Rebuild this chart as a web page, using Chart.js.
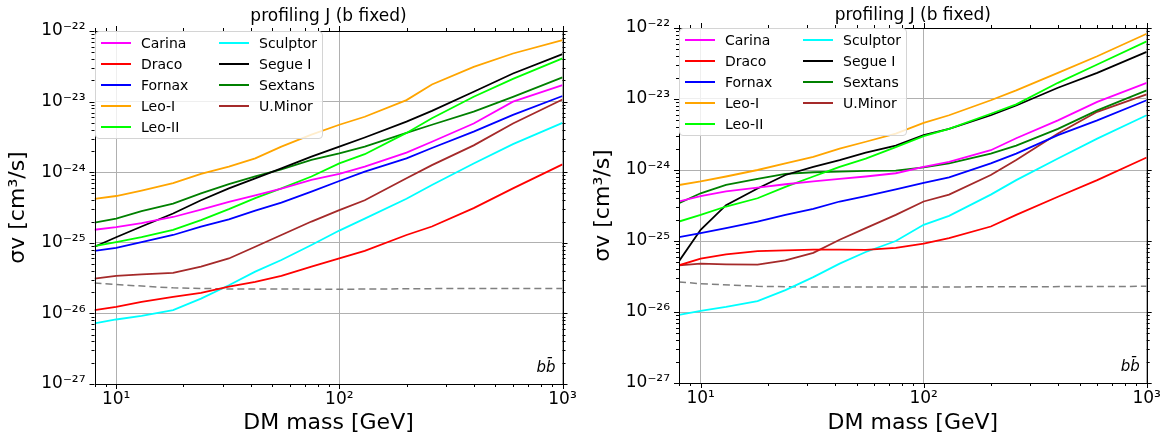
<!DOCTYPE html>
<html>
<head>
<meta charset="utf-8">
<script src="https://cdn.jsdelivr.net/npm/chart.js@4.4.1/dist/chart.umd.min.js"></script>
<style>
  html, body { margin: 0; padding: 0; background: #fff; }
  body { width: 1171px; height: 437px; position: relative; overflow: hidden; font-family: 'DejaVu Sans', sans-serif; }
  .panel { position: absolute; top: 0; height: 437px; }
  .panel canvas { position: absolute; left: 0; top: 0; }
  .legend { position: absolute; box-sizing: border-box; background: rgba(255,255,255,0.8); border: 1px solid #d4d4d4; border-radius: 4px; }
  .legend .item { position: absolute; height: 20px; display: flex; align-items: center; font-size: 14px; color: #000; white-space: nowrap; }
  .legend .swatch { display: inline-block; width: 30px; height: 2px; margin-right: 10.5px; }
</style>
</head>
<body>
<div class="panel" id="leftPanel" style="left:0;width:585px"><canvas id="leftChart" width="585" height="437"></canvas></div>
<div class="panel" id="rightPanel" style="left:585px;width:586px"><canvas id="rightChart" width="586" height="437"></canvas></div>
<script>
Chart.defaults.font.family = "'DejaVu Sans', sans-serif";
Chart.defaults.color = '#000';

// DM masses [GeV] at which the limits are read
const MASS = [8, 10, 13, 18, 24, 32, 42, 55, 75, 100, 130, 200, 260, 400, 600, 1000];
const DASH_MASS = [8, 10, 18, 32, 100, 300, 1000];

const DWARFS = ['Carina', 'Draco', 'Fornax', 'Leo-I', 'Leo-II', 'Sculptor', 'Segue I', 'Sextans', 'U.Minor'];
const COLORS = ['#ff00ff', '#ff0000', '#0000ff', '#ffa500', '#00ff00', '#00ffff', '#000000', '#008000', '#a52a2a'];

// axis ticks
const X_DECADES = [1, 2, 3];
const Y_DECADES = [-27, -26, -25, -24, -23, -22];

// left panel, sigma v [cm^3/s]
const leftCarina   = [1.53e-25, 1.67e-25, 1.9e-25, 2.32e-25, 2.94e-25, 3.79e-25, 4.7e-25, 5.85e-25, 7.8e-25, 9.5e-25, 1.2e-24, 1.89e-24, 2.7e-24, 4.9e-24, 1.0e-23, 1.71e-23];
const leftDraco    = [1.11e-26, 1.24e-26, 1.46e-26, 1.72e-26, 1.95e-26, 2.4e-26, 2.8e-26, 3.4e-26, 4.6e-26, 6.0e-26, 7.7e-26, 1.29e-25, 1.7e-25, 3.1e-25, 5.9e-25, 1.29e-24];
const leftFornax   = [7.7e-26, 8.5e-26, 1.02e-25, 1.29e-25, 1.7e-25, 2.15e-25, 2.86e-25, 3.7e-25, 5.3e-25, 7.5e-25, 1.02e-24, 1.57e-24, 2.2e-24, 3.75e-24, 6.5e-24, 1.2e-23];
const leftLeoI     = [4.2e-25, 4.6e-25, 5.5e-25, 7.0e-25, 9.5e-25, 1.2e-24, 1.57e-24, 2.3e-24, 3.4e-24, 4.7e-24, 6.1e-24, 1.05e-23, 1.75e-23, 3.1e-23, 4.8e-23, 7.4e-23];
const leftLeoII    = [9.0e-26, 1.02e-25, 1.2e-25, 1.52e-25, 2.1e-25, 3.0e-25, 4.3e-25, 5.9e-25, 8.7e-25, 1.33e-24, 1.8e-24, 3.6e-24, 5.8e-24, 1.17e-23, 2.1e-23, 4.1e-23];
const leftSculptor = [7.2e-27, 8.2e-27, 9.2e-27, 1.11e-26, 1.62e-26, 2.5e-26, 3.9e-26, 5.7e-26, 9.3e-26, 1.49e-25, 2.2e-25, 4.2e-25, 6.6e-25, 1.33e-24, 2.5e-24, 5.0e-24];
const leftSegue    = [8.8e-26, 1.2e-25, 1.7e-25, 2.6e-25, 4.0e-25, 5.9e-25, 8.2e-25, 1.13e-24, 1.66e-24, 2.3e-24, 3.1e-24, 5.2e-24, 7.4e-24, 1.38e-23, 2.5e-23, 4.7e-23];
const leftSextans  = [1.93e-25, 2.2e-25, 2.8e-25, 3.6e-25, 5.0e-25, 6.8e-25, 8.7e-25, 1.1e-24, 1.49e-24, 1.85e-24, 2.3e-24, 3.6e-24, 4.7e-24, 7.2e-24, 1.17e-23, 2.2e-23];
const leftUMinor   = [3.1e-26, 3.4e-26, 3.56e-26, 3.75e-26, 4.6e-26, 6.0e-26, 8.8e-26, 1.29e-25, 2.0e-25, 2.9e-25, 4.0e-25, 8.2e-25, 1.26e-24, 2.4e-24, 4.9e-24, 1.07e-23];
const leftDashed   = [2.7e-26, 2.56e-26, 2.3e-26, 2.22e-26, 2.2e-26, 2.25e-26, 2.25e-26];

// right panel
const rightCarina   = [3.6e-25, 4.3e-25, 5.0e-25, 5.65e-25, 6.3e-25, 6.9e-25, 7.5e-25, 8.1e-25, 9.0e-25, 1.11e-24, 1.3e-24, 1.9e-24, 2.8e-24, 5.0e-24, 9.1e-24, 1.69e-23];
const rightDraco    = [4.55e-26, 5.65e-26, 6.5e-26, 7.2e-26, 7.4e-26, 7.55e-26, 7.55e-26, 7.5e-26, 8.0e-26, 9.2e-26, 1.1e-25, 1.6e-25, 2.33e-25, 4.2e-25, 7.2e-25, 1.5e-24];
const rightFornax   = [1.13e-25, 1.29e-25, 1.52e-25, 1.88e-25, 2.33e-25, 2.83e-25, 3.6e-25, 4.3e-25, 5.35e-25, 6.6e-25, 7.9e-25, 1.24e-24, 1.7e-24, 3.1e-24, 5.0e-24, 9.6e-24];
const rightLeoI     = [6.15e-25, 6.9e-25, 8.1e-25, 1.0e-24, 1.24e-24, 1.53e-24, 2.0e-24, 2.5e-24, 3.26e-24, 4.6e-24, 5.9e-24, 9.6e-24, 1.32e-23, 2.33e-23, 4.0e-23, 8.3e-23];
const rightLeoII    = [1.88e-25, 2.33e-25, 3.06e-25, 4.0e-25, 5.8e-25, 8.1e-25, 1.11e-24, 1.45e-24, 2.1e-24, 3.0e-24, 3.8e-24, 6.2e-24, 8.4e-24, 1.69e-23, 3.06e-23, 6.5e-23];
const rightSculptor = [9.1e-27, 1.04e-26, 1.18e-26, 1.42e-26, 2.03e-26, 3.1e-26, 4.8e-26, 7.0e-26, 1.0e-25, 1.69e-25, 2.26e-25, 4.5e-25, 7.2e-25, 1.45e-24, 2.77e-24, 5.9e-24];
const rightSegue    = [5.2e-26, 1.44e-25, 3.2e-25, 5.5e-25, 8.5e-25, 1.11e-24, 1.38e-24, 1.75e-24, 2.2e-24, 3.1e-24, 3.8e-24, 5.9e-24, 8.1e-24, 1.44e-23, 2.33e-23, 4.6e-23];
const rightSextans  = [3.4e-25, 4.7e-25, 6.15e-25, 7.5e-25, 8.8e-25, 9.3e-25, 9.5e-25, 9.7e-25, 9.8e-25, 1.09e-24, 1.24e-24, 1.7e-24, 2.2e-24, 3.8e-24, 6.9e-24, 1.32e-23];
const rightUMinor   = [4.55e-26, 4.8e-26, 4.7e-26, 4.65e-26, 5.35e-26, 6.8e-26, 1.04e-25, 1.52e-25, 2.33e-25, 3.6e-25, 4.5e-25, 8.5e-25, 1.38e-24, 3.26e-24, 6.6e-24, 1.16e-23];
const rightDashed   = [2.65e-26, 2.5e-26, 2.3e-26, 2.25e-26, 2.25e-26, 2.27e-26, 2.3e-26];

const leftSeries = [leftCarina, leftDraco, leftFornax, leftLeoI, leftLeoII, leftSculptor, leftSegue, leftSextans, leftUMinor];
const rightSeries = [rightCarina, rightDraco, rightFornax, rightLeoI, rightLeoII, rightSculptor, rightSegue, rightSextans, rightUMinor];

const SUP = { '-': '\u207b', '0': '\u2070', '1': '\u00b9', '2': '\u00b2', '3': '\u00b3', '4': '\u2074', '5': '\u2075', '6': '\u2076', '7': '\u2077', '8': '\u2078', '9': '\u2079' };
const sup = n => String(n).split('').map(c => SUP[c]).join('');

// decade ticks plus 2..9 minor ticks inside [lo, hi]
function logTicks(decades, lo, hi) {
  const out = [];
  for (let e = decades[0] - 1; e <= decades[decades.length - 1]; e++) {
    for (let m = 1; m < 10; m++) {
      const v = m * Math.pow(10, e);
      if (v >= lo * (1 - 1e-9) && v <= hi * (1 + 1e-9)) out.push({ value: v, major: m === 1 });
    }
  }
  return out;
}

const tickLabel = (v, i, ticks) => ticks[i].major ? '10' + sup(Math.round(Math.log10(v))) : '';
const gridColor = c => (c.tick && c.tick.major) ? '#b0b0b0' : 'rgba(0,0,0,0)';

const framePlugin = {
  id: 'frame',
  afterDraw(chart) {
    const { ctx, chartArea: a, scales: { x, y } } = chart;
    ctx.save();
    ctx.strokeStyle = '#000';
    ctx.lineWidth = 1;
    ctx.beginPath();
    x.ticks.forEach(t => {
      const px = Math.round(x.getPixelForValue(t.value)) + 0.5;
      const len = t.major ? 5 : 3;
      ctx.moveTo(px, a.bottom); ctx.lineTo(px, a.bottom + len);
      ctx.moveTo(px, a.top); ctx.lineTo(px, a.top - len);
    });
    y.ticks.forEach(t => {
      const py = Math.round(y.getPixelForValue(t.value)) + 0.5;
      const len = t.major ? 5 : 3;
      ctx.moveTo(a.left, py); ctx.lineTo(a.left - len, py);
      ctx.moveTo(a.right, py); ctx.lineTo(a.right + len, py);
    });
    ctx.stroke();
    ctx.strokeRect(Math.round(a.left) + 0.5, Math.round(a.top) + 0.5, Math.round(a.right) - Math.round(a.left), Math.round(a.bottom) - Math.round(a.top));
    ctx.fillStyle = '#000';
    ctx.font = "italic 15px 'DejaVu Sans', sans-serif";
    ctx.textAlign = 'right';
    ctx.textBaseline = 'alphabetic';
    ctx.fillText('bb\u0304', a.right - 7, a.bottom - 12);
    ctx.restore();
  }
};

function buildLegend(chart, holder) {
  const a = chart.chartArea;
  const box = document.createElement('div');
  box.className = 'legend';
  box.style.left = Math.round(a.left) + 'px';
  box.style.top = Math.round(a.top) + 'px';
  box.style.width = '228px';
  box.style.height = '108px';
  chart.data.datasets.forEach((ds, i) => {
    if (!ds.label) return;
    const col = Math.floor(i / 5), row = i % 5;
    const item = document.createElement('div');
    item.className = 'item';
    item.style.left = (4.5 + col * 118) + 'px';
    item.style.top = (1.3 + row * 20.8) + 'px';
    item.innerHTML = `<span class="swatch" style="background:${ds.borderColor}"></span>${ds.label}`;
    box.appendChild(item);
  });
  holder.appendChild(box);
}

function makePanel(canvasId, series, dashed, geo) {
  const datasets = series.map((vals, i) => ({
    label: DWARFS[i],
    data: MASS.map((m, j) => ({ x: m, y: vals[j] })),
    borderColor: COLORS[i],
    borderWidth: 1.8,
    pointRadius: 0,
    fill: false,
    tension: 0
  }));
  datasets.push({
    label: '',
    data: DASH_MASS.map((m, j) => ({ x: m, y: dashed[j] })),
    borderColor: '#808080',
    borderWidth: 1.5,
    borderDash: [7, 4],
    pointRadius: 0,
    fill: false
  });
  const chart = new Chart(document.getElementById(canvasId), {
    type: 'line',
    data: { datasets },
    plugins: [framePlugin],
    options: {
      responsive: false,
      animation: false,
      events: [],
      layout: { padding: { left: 0, right: geo.padRight, top: 0, bottom: 0 } },
      plugins: {
        legend: { display: false },
        tooltip: { enabled: false },
        title: {
          display: true,
          fullSize: false,
          text: 'profiling J (b fixed)',
          font: { size: 17, weight: 'normal' },
          color: '#000',
          padding: { top: geo.titleTop, bottom: geo.titleBottom }
        }
      },
      scales: {
        x: {
          type: 'logarithmic',
          min: 8, max: 1000,
          afterBuildTicks: s => { s.ticks = logTicks(X_DECADES, 8, 1000); },
          afterFit: s => { s.height = geo.xHeight; },
          grid: { color: gridColor, lineWidth: 1, drawTicks: false },
          border: { display: false },
          ticks: { autoSkip: false, maxRotation: 0, padding: 5, font: { size: 17 }, color: '#000', callback: tickLabel },
          title: { display: true, text: 'DM mass [GeV]', font: { size: 22 }, color: '#000', padding: { top: 0, bottom: 1 } }
        },
        y: {
          type: 'logarithmic',
          min: 1e-27, max: 1e-22,
          afterBuildTicks: s => { s.ticks = logTicks(Y_DECADES, 1e-27, 1e-22); },
          afterFit: s => { s.width = geo.yWidth; },
          grid: { color: gridColor, lineWidth: 1, drawTicks: false },
          border: { display: false },
          ticks: { autoSkip: false, padding: 9, font: { size: 17 }, color: '#000', callback: tickLabel },
          title: { display: true, text: 'σv [cm³/s]', font: { size: 22 }, color: '#000', padding: { top: 5, bottom: 0 } }
        }
      }
    }
  });
  return chart;
}

const leftChart = makePanel('leftChart', leftSeries, leftDashed,
  { padRight: 22.5, titleTop: 6, titleBottom: 4.6, xHeight: 53, yWidth: 94.5 });
const rightChart = makePanel('rightChart', rightSeries, rightDashed,
  { padRight: 24.3, titleTop: 5, titleBottom: 2.6, xHeight: 54, yWidth: 94 });

buildLegend(leftChart, document.getElementById('leftPanel'));
buildLegend(rightChart, document.getElementById('rightPanel'));
</script>
</body>
</html>
